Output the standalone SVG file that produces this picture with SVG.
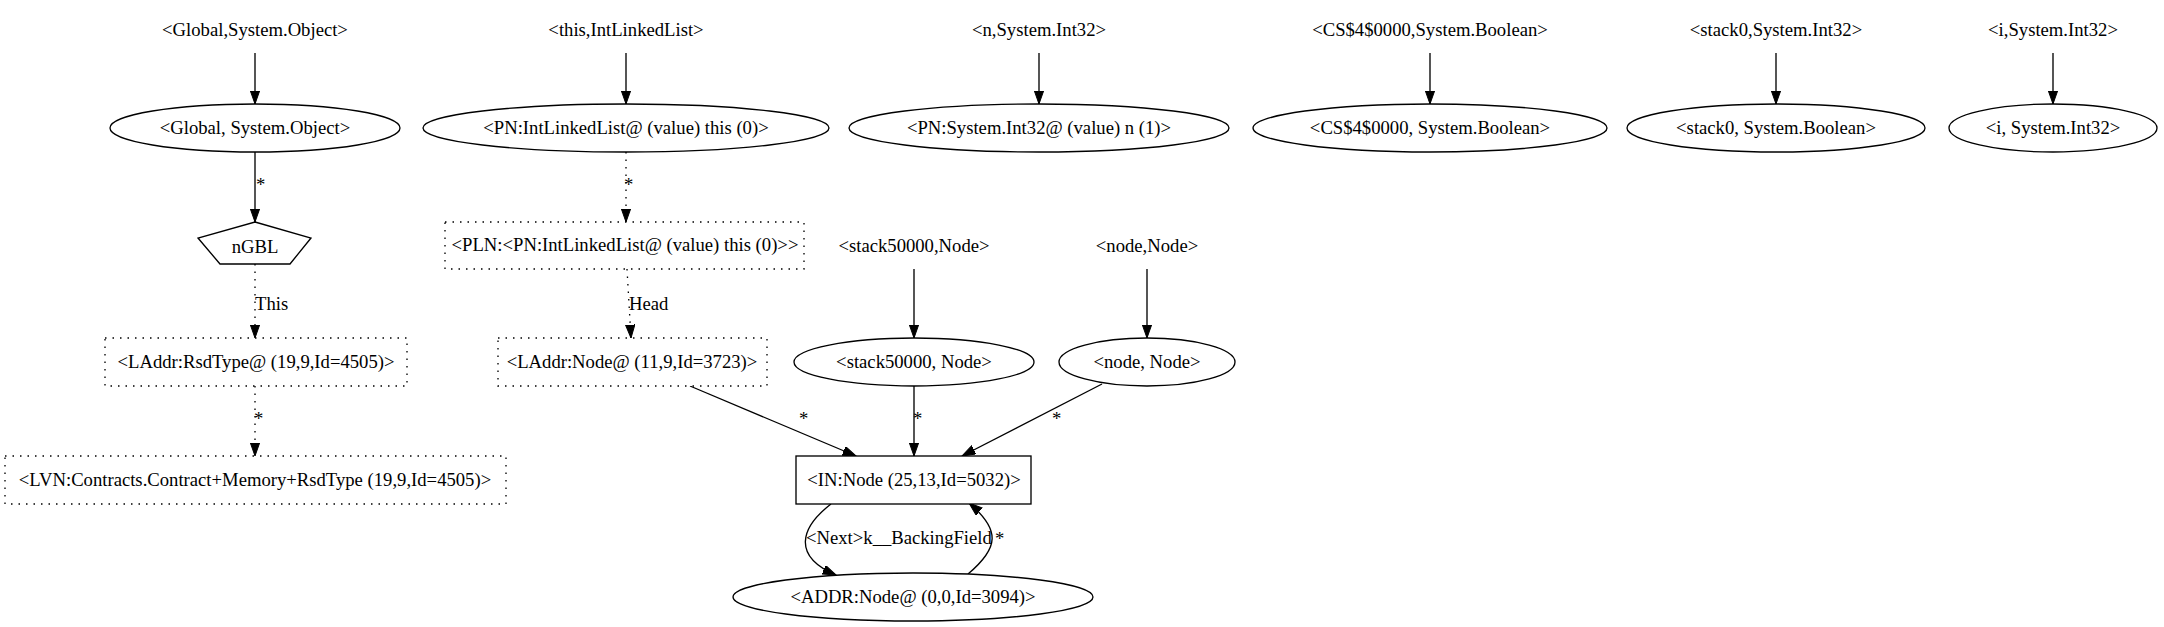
<svg xmlns="http://www.w3.org/2000/svg" width="2164" height="627" viewBox="0 0 2164 627">
<style>
text{font-family:"Liberation Serif","Times New Roman",serif;font-size:18.67px;fill:#000;text-anchor:middle}
text.l{text-anchor:start}
.n{fill:#fff;stroke:#000;stroke-width:1.33}
.d{stroke-dasharray:1.5,6}
.e{fill:none;stroke:#000;stroke-width:1.33}
</style>
<defs>
<marker id="ah" markerWidth="14" markerHeight="10" refX="13.3" refY="4.7" orient="auto" markerUnits="userSpaceOnUse">
<path d="M0,0 L13.3,4.7 L0,9.4 z" fill="#000" stroke="#000" stroke-width="1"/>
</marker>
</defs>
<rect width="2164" height="627" fill="#fff"/>

<g id="connectors">
<path class="e" d="M255,53 L255,104" marker-end="url(#ah)"/>
<path class="e" d="M626,53 L626,104" marker-end="url(#ah)"/>
<path class="e" d="M1039,53 L1039,104" marker-end="url(#ah)"/>
<path class="e" d="M1430,53 L1430,104" marker-end="url(#ah)"/>
<path class="e" d="M1776,53 L1776,104" marker-end="url(#ah)"/>
<path class="e" d="M2053,53 L2053,104" marker-end="url(#ah)"/>

<path class="e" d="M255,152 L255,222" marker-end="url(#ah)"/>
<text class="l" x="256" y="191">*</text>
<path class="e d" d="M626,152 L626,222" marker-end="url(#ah)"/>
<text class="l" x="624" y="191">*</text>

<path class="e d" d="M255,264 L255,338" marker-end="url(#ah)"/>
<text class="l" x="255" y="310">This</text>
<path class="e d" d="M627,269 L631,338" marker-end="url(#ah)"/>
<text class="l" x="629" y="310">Head</text>
<path class="e" d="M914,269 L914,338" marker-end="url(#ah)"/>
<path class="e" d="M1147,269 L1147,338" marker-end="url(#ah)"/>

<path class="e d" d="M255,386 L255,456" marker-end="url(#ah)"/>
<text class="l" x="254" y="425">*</text>
<path class="e" d="M690,386 L856,456" marker-end="url(#ah)"/>
<text class="l" x="799" y="425">*</text>
<path class="e" d="M914,386 L914,456" marker-end="url(#ah)"/>
<text class="l" x="913" y="425">*</text>
<path class="e" d="M1102,384 L962,456" marker-end="url(#ah)"/>
<text class="l" x="1052" y="425">*</text>

<path class="e" d="M831,504 C800,528 792,556 836,575" marker-end="url(#ah)"/>
<text class="l" x="806" y="544">&lt;Next&gt;k__BackingField</text>
<path class="e" d="M968,574 C999,548 1001,530 969,503" marker-end="url(#ah)"/>
<text class="l" x="995" y="545">*</text>
</g>

<g id="t-global"><text x="255" y="36">&lt;Global,System.Object&gt;</text></g>
<g id="t-this"><text x="626" y="36">&lt;this,IntLinkedList&gt;</text></g>
<g id="t-n"><text x="1039" y="36">&lt;n,System.Int32&gt;</text></g>
<g id="t-cs"><text x="1430" y="36">&lt;CS$4$0000,System.Boolean&gt;</text></g>
<g id="t-stack0"><text x="1776" y="36">&lt;stack0,System.Int32&gt;</text></g>
<g id="t-i"><text x="2053" y="36">&lt;i,System.Int32&gt;</text></g>

<g id="e-global"><ellipse class="n" cx="255" cy="128" rx="145" ry="24"/><text x="255" y="134">&lt;Global, System.Object&gt;</text></g>
<g id="e-pn-list"><ellipse class="n" cx="626" cy="128" rx="203" ry="24"/><text x="626" y="134">&lt;PN:IntLinkedList@ (value) this (0)&gt;</text></g>
<g id="e-pn-int"><ellipse class="n" cx="1039" cy="128" rx="190" ry="24"/><text x="1039" y="134">&lt;PN:System.Int32@ (value) n (1)&gt;</text></g>
<g id="e-cs"><ellipse class="n" cx="1430" cy="128" rx="177" ry="24"/><text x="1430" y="134">&lt;CS$4$0000, System.Boolean&gt;</text></g>
<g id="e-stack0"><ellipse class="n" cx="1776" cy="128" rx="149" ry="24"/><text x="1776" y="134">&lt;stack0, System.Boolean&gt;</text></g>
<g id="e-i"><ellipse class="n" cx="2053" cy="128" rx="104" ry="24"/><text x="2053" y="134">&lt;i, System.Int32&gt;</text></g>

<g id="ngbl"><polygon class="n" points="255,222 311,238 290,264 220,264 198,238"/><text x="255" y="253">nGBL</text></g>
<g id="pln"><rect class="n d" x="445" y="222" width="359" height="47"/><text x="625" y="251">&lt;PLN:&lt;PN:IntLinkedList@ (value) this (0)&gt;&gt;</text></g>
<g id="t-stack50000"><text x="914" y="252">&lt;stack50000,Node&gt;</text></g>
<g id="t-node"><text x="1147" y="252">&lt;node,Node&gt;</text></g>

<g id="laddr-rsd"><rect class="n d" x="105" y="338" width="302" height="48"/><text x="256" y="368">&lt;LAddr:RsdType@ (19,9,Id=4505)&gt;</text></g>
<g id="laddr-node"><rect class="n d" x="498" y="338" width="269" height="48"/><text x="632" y="368">&lt;LAddr:Node@ (11,9,Id=3723)&gt;</text></g>
<g id="e-stack50000"><ellipse class="n" cx="914" cy="362" rx="120" ry="24"/><text x="914" y="368">&lt;stack50000, Node&gt;</text></g>
<g id="e-node"><ellipse class="n" cx="1147" cy="362" rx="88" ry="24"/><text x="1147" y="368">&lt;node, Node&gt;</text></g>

<g id="lvn"><rect class="n d" x="5" y="456" width="501" height="48"/><text x="255" y="486">&lt;LVN:Contracts.Contract+Memory+RsdType (19,9,Id=4505)&gt;</text></g>
<g id="in-node"><rect class="n" x="796" y="456" width="235" height="48"/><text x="914" y="486">&lt;IN:Node (25,13,Id=5032)&gt;</text></g>

<g id="addr-node"><ellipse class="n" cx="913" cy="597" rx="180" ry="24"/><text x="913" y="603">&lt;ADDR:Node@ (0,0,Id=3094)&gt;</text></g>
</svg>
